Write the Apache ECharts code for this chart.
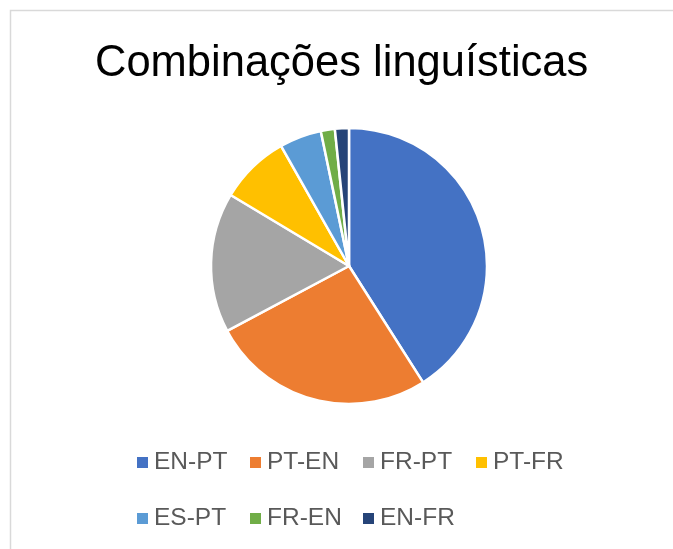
<!DOCTYPE html>
<html>
<head>
<meta charset="utf-8">
<script src="https://cdn.jsdelivr.net/npm/echarts@6/dist/echarts.min.js"></script>
<style>
html,body{margin:0;padding:0;background:#fff;}
#chart{width:673px;height:549px;}
</style>
</head>
<body>
<div id="chart"></div>
<script>
const titleText = 'Combinações linguísticas';
const categories = ['EN-PT', 'PT-EN', 'FR-PT', 'PT-FR', 'ES-PT', 'FR-EN', 'EN-FR'];
const values = [25, 16, 10, 5, 3, 1, 1];
const colors = ['#4472C4', '#ED7D31', '#A5A5A5', '#FFC000', '#5B9BD5', '#70AD47', '#264478'];

const chart = echarts.init(document.getElementById('chart'));
const data = categories.map((c, i) => ({ name: c, value: values[i], itemStyle: { color: colors[i] } }));
const legendText = { fontFamily: 'Liberation Sans', fontSize: 24.5, color: '#595959' };
const legends = categories.map((c, i) => ({
  data: [c],
  left: 135 + (i % 4) * 113,
  top: i < 4 ? 450 : 506,
  itemWidth: 13, itemHeight: 13, itemGap: 11,
  icon: 'rect', textStyle: legendText, selectedMode: false, padding: 0
}));
chart.setOption({
  animation: false,
  backgroundColor: '#fff',
  graphic: [{
    type: 'rect', shape: { x: 10.5, y: 10.5, width: 700, height: 600 },
    style: { fill: 'none', stroke: '#d9d9d9', lineWidth: 1.5 }, silent: true
  }],
  title: {
    text: titleText, left: 95, top: 42, padding: 0,
    textStyle: { fontFamily: 'Liberation Sans', fontSize: 43.5, fontWeight: 'normal', color: '#000' }
  },
  legend: legends,
  series: [{
    type: 'pie', center: [349, 266], radius: 138, startAngle: 90, clockwise: true,
    label: { show: false }, labelLine: { show: false },
    itemStyle: { borderColor: '#fff', borderWidth: 2.5 },
    emphasis: { disabled: true },
    data: data
  }]
});
</script>
</body>
</html>
